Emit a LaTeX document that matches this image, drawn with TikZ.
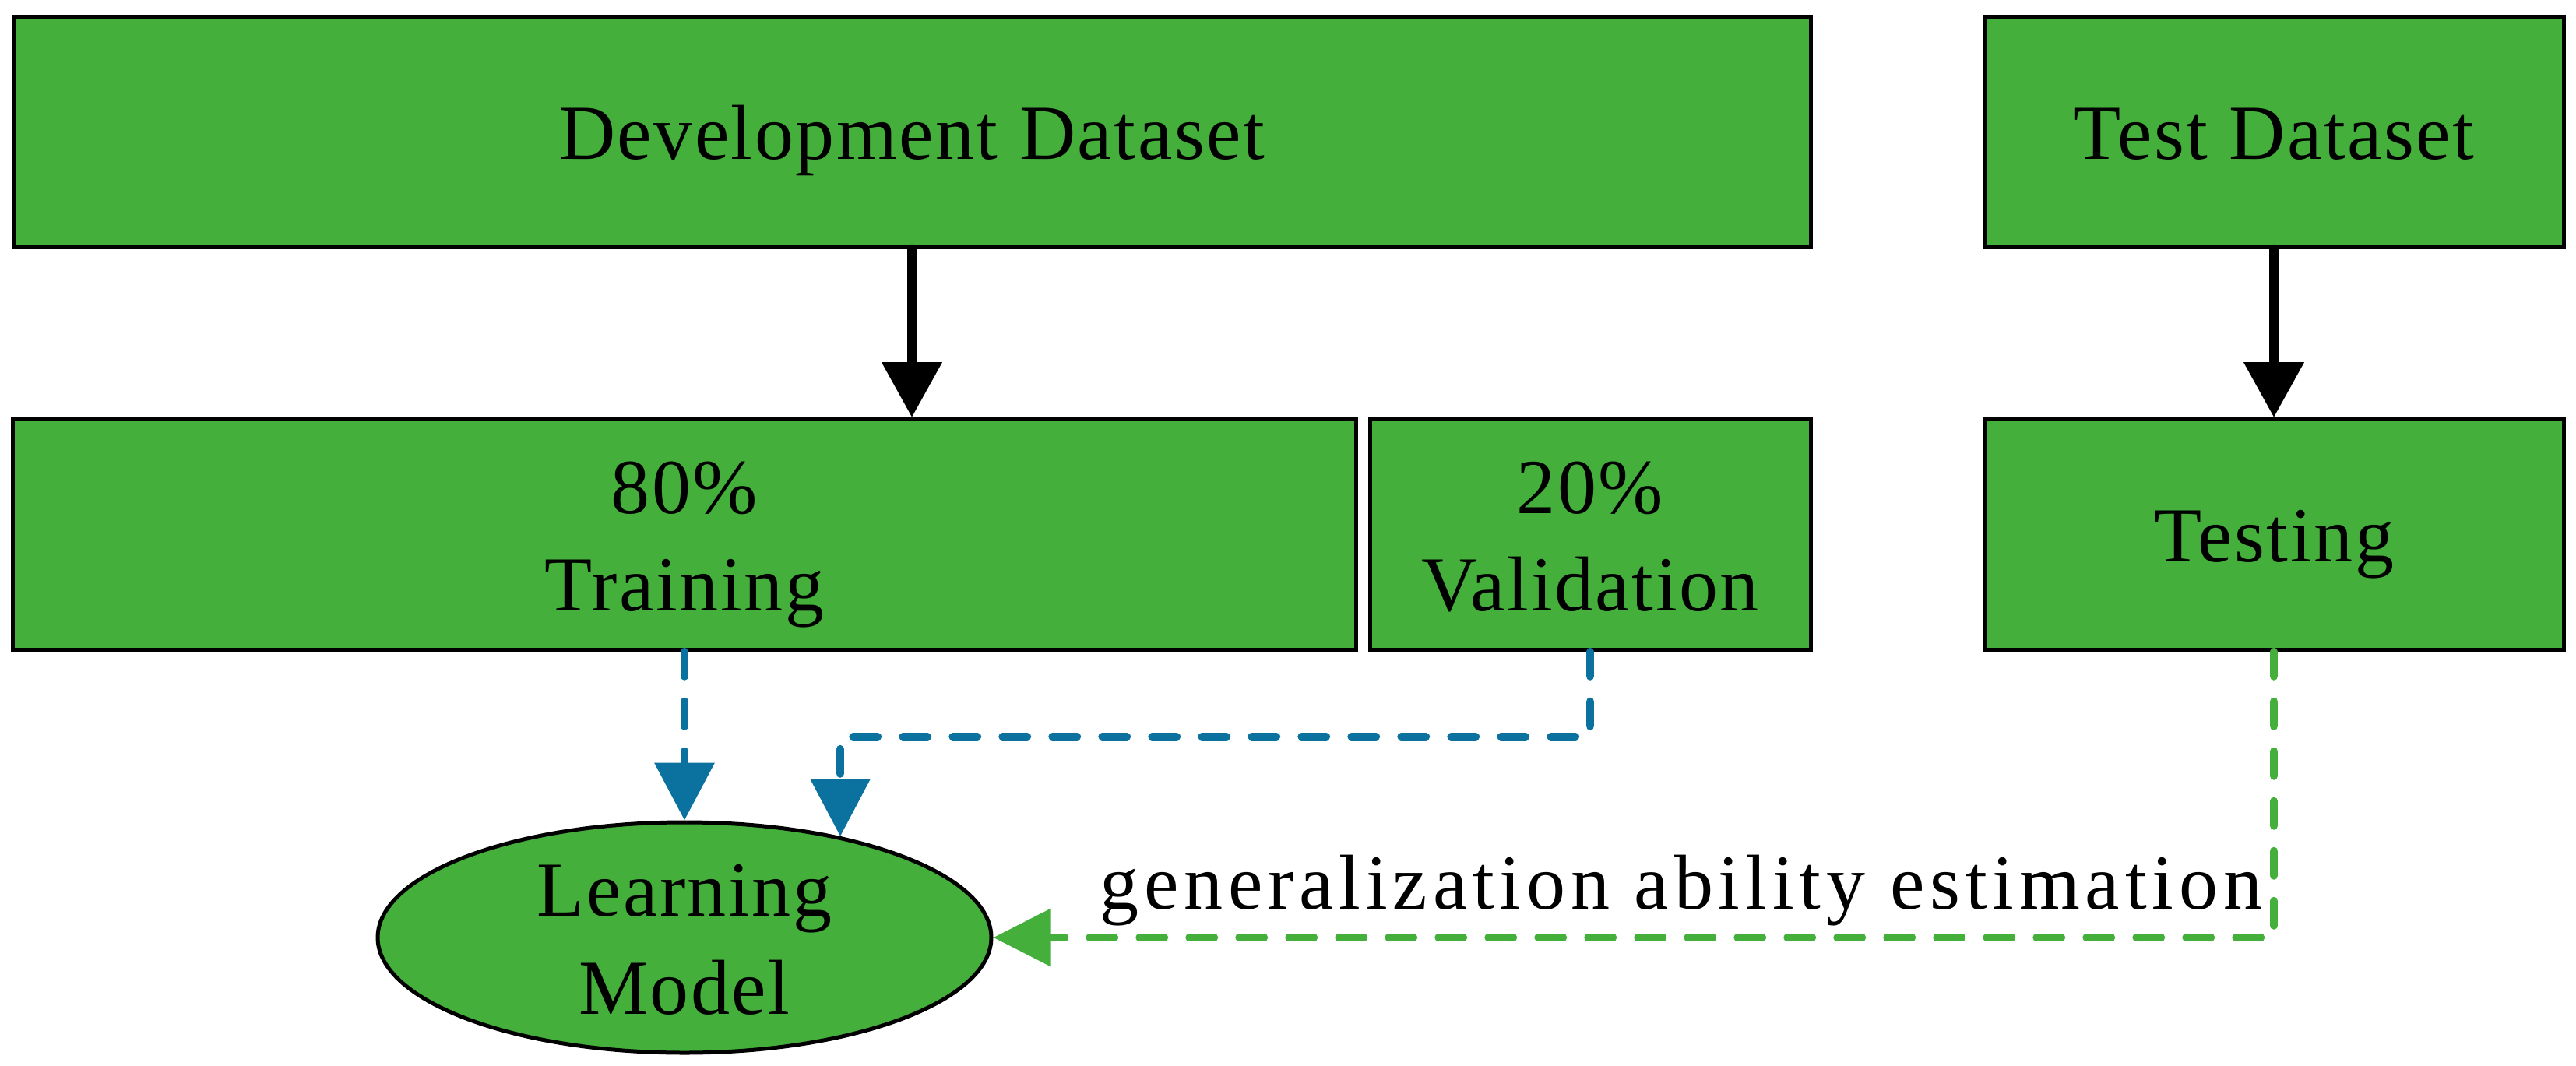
\documentclass[tikz,border=0pt]{standalone}
\usepackage{fontspec}
\setmainfont{Liberation Serif}[LetterSpace=2.5]
\usetikzlibrary{arrows.meta,shapes.geometric,calc}
\definecolor{boxgreen}{RGB}{69,175,60}
\definecolor{arrblue}{RGB}{11,114,160}
\newcommand{\diagfont}{\fontsize{28.45pt}{35.85pt}\selectfont}
\begin{document}
\begin{tikzpicture}[x=1cm,y=1cm,
  box/.style={draw=black, line width=0.05cm, fill=boxgreen, rectangle, inner sep=0pt,
    minimum height=2.96cm, text height=0.70cm, text depth=0cm, font=\diagfont},
  txt/.style={inner sep=0pt, font=\diagfont, anchor=base},
  solidarrow/.style={draw=black, line width=0.115cm, line cap=round,
    -{Triangle[length=0.71cm,width=0.75cm]}},
  dasharrow/.style={line width=0.105cm, line cap=round,
    dash pattern=on 0.315cm off 0.325cm,
    -{Triangle[length=0.74cm,width=0.75cm]}}
]
\useasboundingbox (0,-13.68) rectangle (33.08,0);

% boxes
\node[box, minimum width=23.08cm] (dev) at (11.71,-1.69) {Development Dataset};
\node[box, minimum width=7.44cm] (test) at (29.20,-1.69) {Test Dataset};
\node[box, minimum width=17.24cm] (train) at (8.79,-6.865) {};
\node[box, minimum width=5.66cm] (val) at (20.42,-6.865) {};
\node[box, minimum width=7.44cm] (testing) at (29.20,-6.865) {Testing};

\node[txt] (t80) at (8.79,-6.59) {80\%};
\node[txt] (ttrain) at (8.79,-7.84) {Training};
\node[txt] (t20) at (20.42,-6.59) {20\%};
\node[txt] (tval) at (20.42,-7.84) {Validation};

% learning model
\node[ellipse, draw=black, line width=0.05cm, fill=boxgreen, minimum width=7.88cm,
  minimum height=2.96cm, inner sep=0pt] (lm) at (8.79,-12.04) {};
\node[txt] (tlearn) at (8.79,-11.76) {Learning};
\node[txt] (tmodel) at (8.79,-13.02) {Model};

% connectors
\draw[solidarrow] (dev.south) -- (dev.south |- train.north);
\draw[solidarrow] (test.south) -- (testing.north);
\draw[dasharrow, draw=arrblue] (train.south) -- (lm.north);
\draw[dasharrow, draw=arrblue] (val.south) -- (val.south |- 0,-9.46) -| (lm.33.58);
\draw[dasharrow, draw=boxgreen, -{Triangle[length=0.74cm,width=0.72cm]}]
  (testing.south) |- (lm.east);

\node[txt, font={\diagfont\addfontfeature{LetterSpace=6.8}}] (gae) at (21.585,-11.67)
  {generalization ability estimation};
\end{tikzpicture}
\end{document}
